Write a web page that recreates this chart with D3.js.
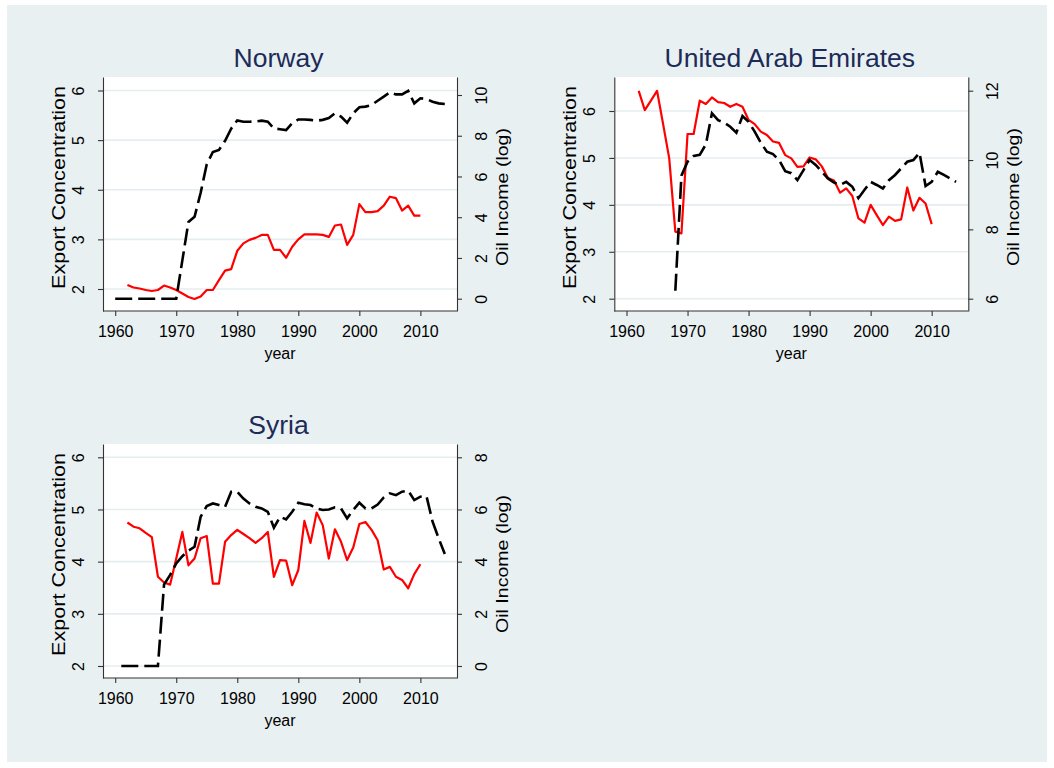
<!DOCTYPE html>
<html>
<head>
<meta charset="utf-8">
<script src="https://cdn.jsdelivr.net/npm/d3@7"></script>
<style>
  body { margin: 0; background: #fff; }
  svg { display: block; font-family: "Liberation Sans", Arial, sans-serif; }
</style>
</head>
<body>
<div id="chart"></div>
<script>
// ---- data ----
const yearTicks = [1960, 1970, 1980, 1990, 2000, 2010];
const exportTicks = [2, 3, 4, 5, 6];

const norwayExportStart = 1962;
const norwayExport = [2.08, 2.03, 2.01, 1.98, 1.96, 1.98, 2.07, 2.03, 1.98,
  1.91, 1.84, 1.80, 1.85, 1.98, 1.98, 2.18, 2.37, 2.40, 2.77,
  2.92, 2.99, 3.03, 3.09, 3.09, 2.79, 2.79, 2.63, 2.85, 3.00,
  3.10, 3.10, 3.10, 3.09, 3.05, 3.28, 3.30, 2.89, 3.09, 3.71,
  3.55, 3.55, 3.57, 3.68, 3.86, 3.83, 3.58, 3.68, 3.48, 3.48];
const norwayOilStart = 1960;
const norwayOil = [0, 0, 0, 0, 0, 0, 0, 0, 0, 0, 0,
  1.88, 3.77, 4.02, 5.2, 6.6, 7.2, 7.3, 7.75, 8.35, 8.75,
  8.69, 8.69, 8.7, 8.74, 8.69, 8.36, 8.32, 8.28, 8.61, 8.8,
  8.8, 8.78, 8.74, 8.78, 8.87, 9.1, 8.94, 8.64, 9.1, 9.4,
  9.43, 9.51, 9.72, 9.92, 10.13, 10.03, 10.03, 10.2, 9.59, 9.84,
  9.8, 9.67, 9.59, 9.56];
const norwayOilTicks = [0, 2, 4, 6, 8, 10];

const uaeExportStart = 1962;
const uaeExport = [6.43, 6.02, 6.22, 6.43, 5.72, 4.99, 3.43, 3.39, 5.51,
  5.51, 6.22, 6.15, 6.29, 6.19, 6.17, 6.09, 6.15, 6.09, 5.81,
  5.72, 5.56, 5.49, 5.35, 5.32, 5.06, 4.99, 4.81, 4.82, 5.01,
  4.97, 4.82, 4.57, 4.52, 4.26, 4.35, 4.19, 3.71, 3.62, 4.00,
  3.78, 3.57, 3.75, 3.66, 3.69, 4.37, 3.88, 4.15, 4.03, 3.59];
const uaeOilStart = 1968;
const uaeOil = [6.23, 9.55, 9.95,
  10.12, 10.15, 10.45, 11.35, 11.15, 11.08, 10.96, 10.79, 11.27, 11.1,
  10.82, 10.5, 10.24, 10.17, 10.0, 9.68, 9.62, 9.42, 9.71, 10.0,
  9.86, 9.66, 9.47, 9.35, 9.28, 9.37, 9.23, 8.9, 9.14, 9.37,
  9.28, 9.18, 9.42, 9.57, 9.76, 9.95, 10.0, 10.21, 9.25, 9.37,
  9.66, 9.57, 9.47, 9.37];
const uaeOilTicks = [6, 8, 10, 12];

const syriaExportStart = 1962;
const syriaExport = [4.75, 4.67, 4.64, 4.55, 4.47, 3.71, 3.60, 3.56, 4.06,
  4.57, 3.93, 4.06, 4.45, 4.49, 3.58, 3.58, 4.38, 4.51, 4.61,
  4.53, 4.45, 4.36, 4.45, 4.57, 3.71, 4.03, 4.02, 3.55, 3.84,
  4.78, 4.36, 4.94, 4.70, 4.06, 4.62, 4.38, 4.03, 4.27, 4.72,
  4.76, 4.61, 4.41, 3.85, 3.90, 3.71, 3.65, 3.49, 3.76, 3.95];
const syriaOilStart = 1961;
const syriaOil = [0, 0, 0, 0, 0, 0, 0,
  3.12, 3.49, 3.93, 4.21, 4.42, 4.57, 5.72, 6.13, 6.23, 6.17, 6.1, 6.68, 6.68,
  6.42, 6.23, 6.10, 6.04, 5.91, 5.3, 5.72, 5.62, 5.91, 6.26,
  6.2, 6.17, 6.04, 5.98, 6.0, 6.08, 6.04, 5.66, 5.98, 6.26,
  6.04, 6.04, 6.19, 6.46, 6.62, 6.55, 6.68, 6.72, 6.36, 6.49,
  6.51, 5.53, 4.89, 4.29];
const syriaOilTicks = [0, 2, 4, 6, 8];

// ---- layout ----
const width = 1054;
const height = 768;

const panels = [
  { title: "Norway", left: 103, right: 457, top: 77, bottom: 311,
    leftAnchor: [289, 90.5], rightTicks: norwayOilTicks, rightAnchor: [298.7, 95],
    exportStart: norwayExportStart, exportVals: norwayExport,
    oilStart: norwayOilStart, oilVals: norwayOil },
  { title: "United Arab Emirates", left: 614.3, right: 968.3, top: 77, bottom: 311,
    leftAnchor: [298.7, 111], rightTicks: uaeOilTicks, rightAnchor: [298.7, 90.7],
    exportStart: uaeExportStart, exportVals: uaeExport,
    oilStart: uaeOilStart, oilVals: uaeOil },
  { title: "Syria", left: 103, right: 457, top: 444, bottom: 678,
    leftAnchor: [666, 457.3], rightTicks: syriaOilTicks, rightAnchor: [666, 457.3],
    exportStart: syriaExportStart, exportVals: syriaExport,
    oilStart: syriaOilStart, oilVals: syriaOil }
];

const svg = d3.select("#chart")
  .append("svg")
  .attr("width", width)
  .attr("height", height);

// graph region background
svg.append("rect")
  .attr("x", 7).attr("y", 5)
  .attr("width", 1040).attr("height", 757)
  .attr("fill", "#e9f0f2");

const axisColor = "#333";
const textColor = "#000";
const fmt = d3.format("d");

function drawPanel(p) {
  const g = svg.append("g");

  const x = d3.scaleLinear().domain([1958, 2016]).range([p.left, p.right]);

  // left scale anchored on ticks 2 and 6, then stretched to the plot box
  const yL = d3.scaleLinear().domain([2, 6]).range(p.leftAnchor);
  yL.domain([yL.invert(p.bottom), yL.invert(p.top)]).range([p.bottom, p.top]);

  const rt = p.rightTicks;
  const yR = d3.scaleLinear().domain([rt[0], rt[rt.length - 1]]).range(p.rightAnchor);
  yR.domain([yR.invert(p.bottom), yR.invert(p.top)]).range([p.bottom, p.top]);

  // plot region
  g.append("rect")
    .attr("x", p.left).attr("y", p.top)
    .attr("width", p.right - p.left).attr("height", p.bottom - p.top)
    .attr("fill", "#fff");

  // grid lines on the left axis ticks
  g.selectAll(".grid")
    .data(exportTicks)
    .join("line")
    .attr("x1", p.left).attr("x2", p.right)
    .attr("y1", d => yL(d)).attr("y2", d => yL(d))
    .attr("stroke", "#e6edf0")
    .attr("stroke-width", 1.6);

  // series
  const lineFor = (start, sc) => d3.line()
    .x((d, i) => x(start + i))
    .y(d => sc(d));

  g.append("path")
    .attr("d", lineFor(p.exportStart, yL)(p.exportVals))
    .attr("fill", "none")
    .attr("stroke", "#ff0000")
    .attr("stroke-width", 2.2)
    .attr("stroke-linejoin", "round");

  g.append("path")
    .attr("d", lineFor(p.oilStart, yR)(p.oilVals))
    .attr("fill", "none")
    .attr("stroke", "#000")
    .attr("stroke-width", 2.6)
    .attr("stroke-dasharray", "17,6");

  // axes
  const fs = 16;

  const gx = g.append("g")
    .attr("transform", `translate(0,${p.bottom})`)
    .call(d3.axisBottom(x).tickValues(yearTicks).tickFormat(fmt)
      .tickSize(5).tickSizeOuter(0).tickPadding(10));
  gx.select(".domain").attr("d", `M${p.left},0H${p.right}`);

  const gl = g.append("g")
    .attr("transform", `translate(${p.left},0)`)
    .call(d3.axisLeft(yL).tickValues(exportTicks).tickFormat(fmt)
      .tickSize(5).tickSizeOuter(0));

  const gr = g.append("g")
    .attr("transform", `translate(${p.right},0)`)
    .call(d3.axisRight(yR).tickValues(rt).tickFormat(fmt)
      .tickSize(5).tickSizeOuter(0));

  [gx, gl, gr].forEach(a => {
    a.selectAll(".domain, .tick line").attr("stroke", axisColor).attr("stroke-width", 1.1);
    a.selectAll("text").attr("fill", textColor).attr("font-size", fs)
      .attr("font-family", "Liberation Sans, Arial, sans-serif");
  });

  // vertical tick labels
  gl.selectAll(".tick text")
    .attr("x", null).attr("dy", null)
    .attr("text-anchor", "middle")
    .attr("transform", "translate(-19.5,0) rotate(-90)");
  gr.selectAll(".tick text")
    .attr("x", null).attr("dy", null)
    .attr("text-anchor", "middle")
    .attr("transform", "translate(29.5,0) rotate(-90)");

  // axis titles
  g.append("text")
    .attr("transform", `translate(${p.left - 38.5},${p.top + 110.5}) rotate(-90)`)
    .attr("text-anchor", "middle")
    .attr("font-size", 18.5)
    .attr("textLength", 203)
    .attr("lengthAdjust", "spacingAndGlyphs")
    .attr("fill", textColor)
    .text("Export Concentration");

  g.append("text")
    .attr("transform", `translate(${p.right + 51},${p.top + 120}) rotate(-90)`)
    .attr("text-anchor", "middle")
    .attr("font-size", 17)
    .attr("textLength", 138)
    .attr("lengthAdjust", "spacingAndGlyphs")
    .attr("fill", textColor)
    .text("Oil Income (log)");

  g.append("text")
    .attr("x", (p.left + p.right) / 2)
    .attr("y", p.bottom + 48)
    .attr("text-anchor", "middle")
    .attr("font-size", fs)
    .attr("fill", textColor)
    .text("year");

  // panel title
  g.append("text")
    .attr("x", (p.left + p.right) / 2 - 1.5)
    .attr("y", p.top - 10)
    .attr("text-anchor", "middle")
    .attr("font-size", 26.5)
    .attr("fill", "#1c2b58")
    .text(p.title);
}

panels.forEach(drawPanel);
</script>
</body>
</html>
